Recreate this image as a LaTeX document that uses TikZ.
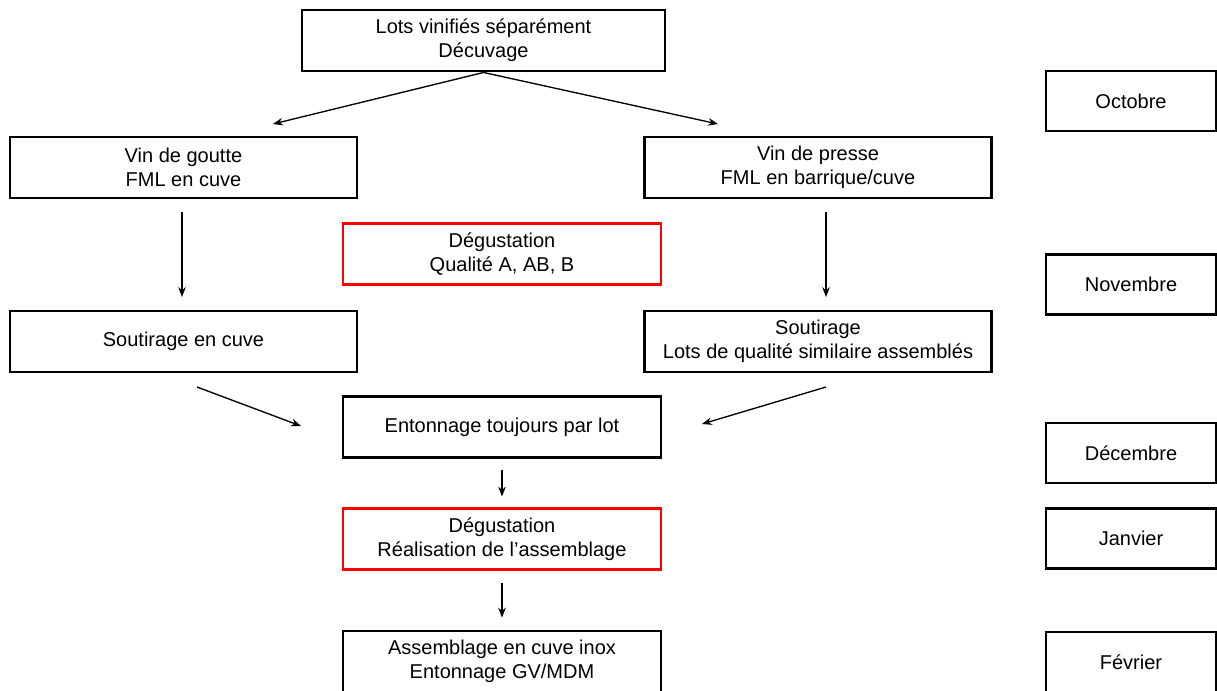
\documentclass[tikz,border=0pt]{standalone}
\usepackage{fontspec}
\setmainfont{Liberation Sans}
\usetikzlibrary{arrows.meta,calc}
\definecolor{TasteRed}{HTML}{FF0000}

\begin{document}
\begin{tikzpicture}[
  x=0.75pt, y=-0.75pt,
  >={Stealth[length=2.6mm,width=2.0mm]},
  flow arrow/.style={->,line width=1pt},
  step box/.style={draw=black,line width=2.2pt,rectangle,align=center,
    font=\fontsize{15}{18}\selectfont,inner sep=0pt},
  wide box/.style={step box,minimum width=347*0.75pt,minimum height=61*0.75pt},
  mid box/.style={step box,minimum width=318*0.75pt,minimum height=61*0.75pt},
  taste box/.style={mid box,draw=TasteRed,line width=2pt},
  month box/.style={step box,minimum width=170*0.75pt,minimum height=60*0.75pt}
]
\useasboundingbox (0,0) rectangle (1217,690);

% Main flow, lots to assembly.
\node[step box,minimum width=363*0.75pt,minimum height=61*0.75pt]
  (lots) at (483.5,40.5) {Lots vinifiés séparément\\Décuvage};
\node[wide box] (goutte) at (183.5,167.5) {Vin de goutte\\FML en cuve};
\node[wide box] (presse) at (818,167.5) {Vin de presse\\FML en barrique/cuve};
\node[taste box] (degA) at (502,254) {Dégustation\\Qualité A, AB, B};
\node[wide box] (soutL) at (183.5,341.5) {Soutirage en cuve};
\node[wide box] (soutR) at (818,341.5)
  {Soutirage\\Lots de qualité similaire assemblés};
\node[mid box] (enton) at (502,427) {Entonnage toujours par lot};
\node[taste box] (degB) at (502,539) {Dégustation\\Réalisation de l’assemblage};
\node[mid box] (assem) at (502,661.5) {Assemblage en cuve inox\\Entonnage GV/MDM};

% Months column.
\node[month box] (oct) at (1131,101) {Octobre};
\node[month box] (nov) at (1131,284.5) {Novembre};
\node[month box] (dec) at (1131,453) {Décembre};
\node[month box] (jan) at (1131,538.5) {Janvier};
\node[month box] (fev) at (1131,662) {Février};

% Arrow ends, left free of the boxes.
\coordinate (splitL) at (273,124);
\coordinate (splitR) at (718,124);
\coordinate (gouttedown) at (182,212);
\coordinate (soutLup) at (182,297);
\coordinate (pressedown) at (826,212);
\coordinate (soutRup) at (826,297);
\coordinate (joinLa) at (197,387);
\coordinate (joinLb) at (301,426);
\coordinate (joinRa) at (826,387);
\coordinate (joinRb) at (702,424);

\draw[flow arrow] (lots.south) -- (splitL);
\draw[flow arrow] (lots.south) -- (splitR);
\draw[flow arrow] (gouttedown) -- (soutLup);
\draw[flow arrow] (pressedown) -- (soutRup);
\draw[flow arrow] (joinLa) -- (joinLb);
\draw[flow arrow] (joinRa) -- (joinRb);
\draw[flow arrow,shorten <=8pt,shorten >=8pt] (enton.south) -- (degB.north);
\draw[flow arrow,shorten <=9pt,shorten >=9pt] (degB.south) -- (assem.north);

\end{tikzpicture}
\end{document}
